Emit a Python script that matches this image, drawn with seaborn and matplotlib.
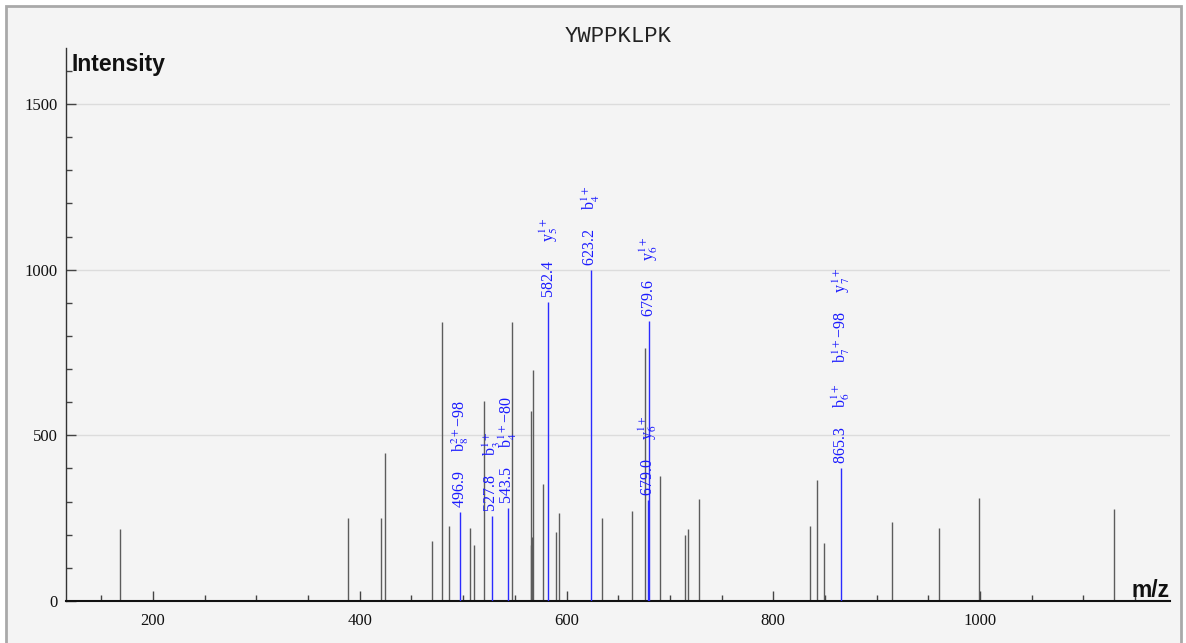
"""
Annotated MS/MS spectrum for the peptide YWPPKLPK.

Output:
    out.png
"""

import matplotlib.pyplot as plt
import seaborn as sns
from matplotlib.patches import Rectangle
from matplotlib.ticker import MultipleLocator

PEPTIDE = "YWPPKLPK"

# unmatched peaks (m/z, intensity)
PEAK_MZ = [
    168.0, 388.2, 420.4, 424.3, 469.8, 479.5, 486.2, 507.0, 510.1, 520.5,
    547.2, 565.2, 565.9, 566.5, 567.9, 576.9, 589.7, 592.6, 634.2, 663.0,
    675.8, 690.0, 714.2, 717.1, 728.1, 835.4, 842.2, 849.4, 914.5, 960.0,
    998.9, 1129.9,
]
PEAK_INTENSITY = [
    216, 250, 250, 447, 181, 841, 226, 221, 169, 604,
    841, 169, 574, 194, 697, 353, 209, 265, 252, 272,
    765, 377, 199, 217, 308, 227, 365, 174, 238, 219,
    310, 277,
]

# matched fragment ions
ION_MZ = [496.9, 527.8, 543.5, 582.4, 623.2, 679.0, 679.6, 865.3]
ION_INTENSITY = [270, 257, 280, 903, 1000, 305, 845, 402]
ION_LABELS = [
    ["b$_8^{2+}$−98"],
    ["b$_3^{1+}$"],
    ["b$_4^{1+}$−80"],
    ["y$_5^{1+}$"],
    ["b$_4^{1+}$"],
    ["y$_6^{1+}$"],
    ["y$_6^{1+}$"],
    ["b$_6^{1+}$", "b$_7^{1+}$−98", "y$_7^{1+}$"],
]

X_LIMITS = (115.8, 1183.8)
Y_LIMITS = (0, 1669)

W, H = 1186, 643

sns.set_theme(style="white")
plt.rcParams["font.family"] = ["Liberation Serif", "DejaVu Serif"]
plt.rcParams["mathtext.fontset"] = "stix"

fig = plt.figure(figsize=(W / 100, H / 100), dpi=100, facecolor="white")

# light panel with grey frame behind the plot
fig.patches.append(
    Rectangle(
        (6 / W, -0.05),
        1175 / W,
        1.05 - 6 / H,
        transform=fig.transFigure,
        facecolor="#f4f4f4",
        edgecolor="#a9a9a9",
        linewidth=2,
        zorder=-5,
    )
)

ax = fig.add_axes([66 / W, 42 / H, 1104 / W, 553 / H])
ax.set_facecolor("none")

ax.vlines(PEAK_MZ, 0, PEAK_INTENSITY, color="#5c5c5c", linewidth=1, zorder=2)
ax.vlines(ION_MZ, 0, ION_INTENSITY, color="#2b2bff", linewidth=1, zorder=3)

gap = "     "
for mz, inten, labels in zip(ION_MZ, ION_INTENSITY, ION_LABELS):
    text = f"{mz:.1f}" + gap + gap.join(labels)
    ax.annotate(
        text,
        xy=(mz, inten),
        xytext=(5, 4),
        textcoords="offset pixels",
        rotation=90,
        rotation_mode="anchor",
        ha="left",
        va="baseline",
        color="#1a1aff",
        fontsize=11.5,
        zorder=4,
    )

ax.set_xlim(*X_LIMITS)
ax.set_ylim(*Y_LIMITS)
ax.xaxis.set_major_locator(MultipleLocator(200))
ax.xaxis.set_minor_locator(MultipleLocator(50))
ax.yaxis.set_major_locator(MultipleLocator(500))
ax.yaxis.set_minor_locator(MultipleLocator(100))

ax.tick_params(which="both", direction="in", color="#444444", width=1,
               labelsize=12, labelcolor="#111111")
ax.tick_params(which="major", length=7.2)
ax.tick_params(which="minor", length=4.3)
ax.tick_params(axis="x", which="both", pad=8.6, bottom=True)
ax.tick_params(axis="y", which="both", pad=5.8, left=True)

ax.grid(axis="y", which="major", color="#dcdcdc", linewidth=1)
ax.set_axisbelow(True)

sns.despine(ax=ax)
ax.spines["left"].set_color("#333333")
ax.spines["left"].set_linewidth(1)
ax.spines["bottom"].set_color("#111111")
ax.spines["bottom"].set_linewidth(1.5)

ax.set_title(PEPTIDE, family="Liberation Mono", fontsize=16, pad=4, color="#222222")
ax.text(0.005, 0.958, "Intensity", transform=ax.transAxes, ha="left", va="baseline",
        family="Liberation Sans", fontweight="bold", fontsize=16.5, color="#111111")
ax.text(1.0, 0.007, "m/z", transform=ax.transAxes, ha="right", va="baseline",
        family="Liberation Sans", fontweight="bold", fontsize=16.5, color="#111111")

fig.savefig("out.png", dpi=100, facecolor=fig.get_facecolor())
